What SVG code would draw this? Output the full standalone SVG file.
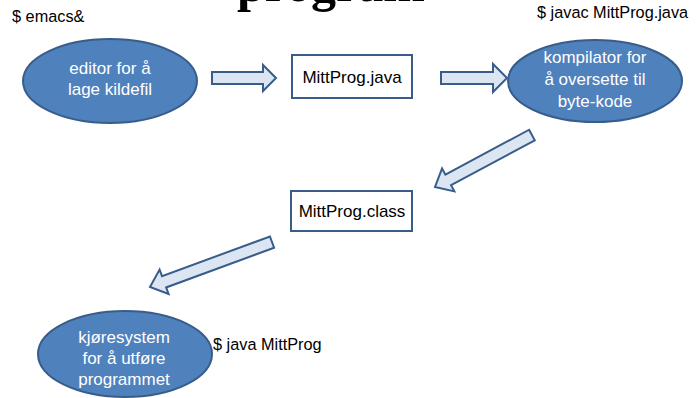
<svg xmlns="http://www.w3.org/2000/svg" width="697" height="398" viewBox="0 0 697 398">
<style>
.oval{fill:#4F81BD;stroke:#385D8A;stroke-width:2}
.box{fill:#FFFFFF;stroke:#385D8A;stroke-width:2}
.arr{fill:#DCE6F2;stroke:#385D8A;stroke-width:2;stroke-linejoin:miter}
.wt{font-family:"Liberation Sans",Arial,sans-serif;font-size:17px;fill:#FFFFFF;text-anchor:middle}
.bt{font-family:"Liberation Sans",Arial,sans-serif;font-size:17px;fill:#000000;text-anchor:middle}
.cmd{font-family:"Liberation Sans",Arial,sans-serif;font-size:16.3px;fill:#000000}
.title{font-family:"Liberation Serif","Times New Roman",serif;font-size:50px;font-weight:bold;fill:#000000}
</style>
<rect width="697" height="398" fill="#FFFFFF"/>
<text class="title" x="237" y="1">program</text>
<text class="cmd" x="12" y="22">$ emacs&amp;</text>
<text class="cmd" x="537" y="18">$ javac MittProg.java</text>
<text class="cmd" x="213" y="350">$ java MittProg</text>
<g id="editor">
<ellipse class="oval" cx="110" cy="81" rx="87" ry="42"/>
<text class="wt" x="110" y="74">editor for å</text>
<text class="wt" x="110" y="95">lage kildefil</text>
</g>
<g id="mittprog-java">
<rect class="box" x="292" y="55" width="120" height="43"/>
<text class="bt" x="352" y="83">MittProg.java</text>
</g>
<g id="kompilator">
<ellipse class="oval" cx="595" cy="81" rx="87" ry="41"/>
<text class="wt" x="595" y="63">kompilator for</text>
<text class="wt" x="595" y="85">å oversette til</text>
<text class="wt" x="595" y="107">byte-kode</text>
</g>
<g id="mittprog-class">
<rect class="box" x="291" y="191" width="121" height="40"/>
<text class="bt" x="352" y="217">MittProg.class</text>
</g>
<g id="kjoresystem">
<ellipse class="oval" cx="125" cy="354" rx="87" ry="43"/>
<text class="wt" x="124" y="343">kjøresystem</text>
<text class="wt" x="124" y="364">for å utføre</text>
<text class="wt" x="124" y="385">programmet</text>
</g>
<g id="connectors">
<polygon class="arr" points="212,72 263,72 263,65 276,78 263,91 263,84 212,84"/>
<polygon class="arr" points="441,72 493,72 493,64 507,78 493,92 493,84 441,84"/>
<polygon class="arr" transform="translate(435,187) rotate(151.8)" points="-110,-6 -15,-6 -15,-13 0,0 -15,13 -15,6 -110,6"/>
<polygon class="arr" transform="translate(150,287) rotate(159.8)" points="-130,-6 -15,-6 -15,-13 0,0 -15,13 -15,6 -130,6"/>
</g>
</svg>
